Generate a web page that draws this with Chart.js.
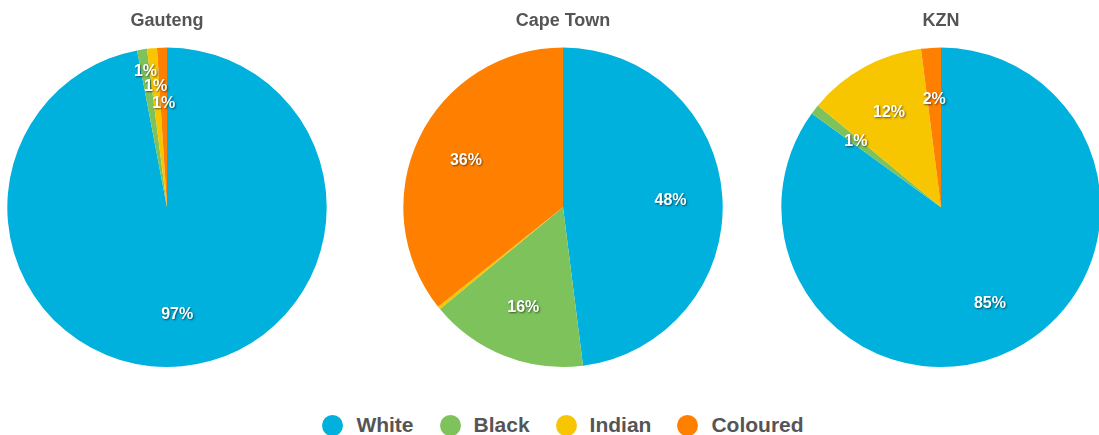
<!DOCTYPE html>
<html>
<head>
<meta charset="utf-8">
<script src="https://cdn.jsdelivr.net/npm/chart.js@4/dist/chart.umd.min.js"></script>
<style>
  body { margin: 0; width: 1099px; height: 435px; overflow: hidden; background: #fff; position: relative;
         font-family: "Liberation Sans", Arial, sans-serif; }
  .pie { position: absolute; top: 0; }
  #legend { position: absolute; top: 413px; left: 0; width: 1126px; display: flex; justify-content: center;
            font-weight: bold; font-size: 21px; color: #555; }
  .item { display: flex; align-items: center; margin: 0 13px; }
  .dot { width: 21px; height: 21px; border-radius: 50%; margin-right: 13px; }
</style>
</head>
<body>
<canvas id="gauteng" class="pie" width="322" height="372" style="left:6px"></canvas>
<canvas id="capeTown" class="pie" width="322" height="372" style="left:402px"></canvas>
<canvas id="kzn" class="pie" width="322" height="372" style="left:780px"></canvas>
<div id="legend"></div>
<script>
// Race groups and their share (%) in each region
const groups = ["White", "Black", "Indian", "Coloured"];
const colors = ["#00b0dd", "#7dc25b", "#f7c600", "#ff8000"];

const gautengData = [97, 1, 1, 1];
const capeTownData = [48, 16, 0.3, 35.7];
const kznData = [85, 1, 12, 2];

// Plugin that writes the percentage inside each slice
const sliceLabels = {
    id: "sliceLabels",
    afterDatasetsDraw(chart, args, opts) {
        const ctx = chart.ctx;
        const meta = chart.getDatasetMeta(0);
        const values = chart.data.datasets[0].data;
        ctx.save();
        ctx.font = "bold 16px 'Liberation Sans', Arial, sans-serif";
        ctx.textAlign = "center";
        ctx.textBaseline = "middle";
        ctx.fillStyle = "#fff";
        ctx.shadowColor = "rgba(0,0,0,0.55)";
        ctx.shadowBlur = 2;
        ctx.shadowOffsetX = 1;
        ctx.shadowOffsetY = 1;
        meta.data.forEach((arc, i) => {
            if (values[i] < 0.5) return;
            const mid = (arc.startAngle + arc.endAngle) / 2;
            const f = (opts.radius && opts.radius[i]) || 0.675;
            const r = arc.outerRadius * f;
            ctx.fillText(Math.round(values[i]) + "%", arc.x + Math.cos(mid) * r, arc.y + Math.sin(mid) * r);
        });
        ctx.restore();
    }
};

const createPie = (elementId, title, data, labelRadius) => {
    const ctx = document.getElementById(elementId).getContext("2d");
    return new Chart(ctx, {
        type: "pie",
        data: {
            labels: groups,
            datasets: [{
                data: data,
                backgroundColor: colors,
                borderWidth: 0
            }]
        },
        options: {
            responsive: false,
            animation: false,
            layout: { padding: { top: 0, bottom: 5 } },
            plugins: {
                legend: { display: false },
                tooltip: { enabled: false },
                title: {
                    display: true,
                    text: title,
                    color: "#555",
                    font: { family: "'Liberation Sans', Arial, sans-serif", size: 18, weight: "bold" },
                    padding: { top: 10, bottom: 16 }
                },
                sliceLabels: { radius: labelRadius }
            }
        },
        plugins: [sliceLabels]
    });
}

createPie("gauteng", "Gauteng", gautengData, [0.675, 0.86, 0.76, 0.65]);
createPie("capeTown", "Cape Town", capeTownData);
createPie("kzn", "KZN", kznData);

// Shared legend
const legend = document.getElementById("legend");
groups.forEach((g, i) => {
    const item = document.createElement("div");
    item.className = "item";
    item.innerHTML = `<span class="dot" style="background:${colors[i]}"></span>${g}`;
    legend.appendChild(item);
});
</script>
</body>
</html>
